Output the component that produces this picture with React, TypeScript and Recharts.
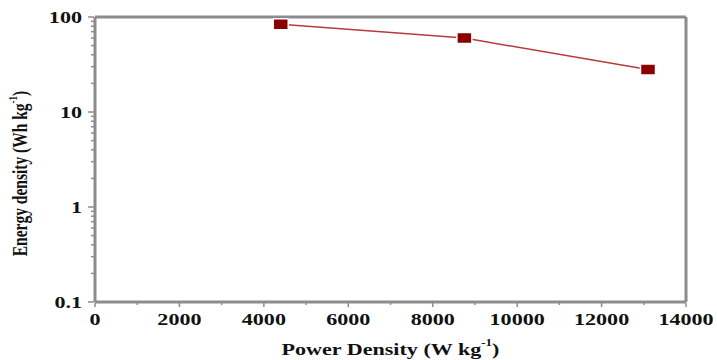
import { LineChart, Line, XAxis, YAxis, ReferenceLine, Label } from 'recharts';

const powerDensity = [4400, 8750, 13100];
const energyDensity = [84, 60, 28];

const xTicks = [0, 1000, 2000, 3000, 4000, 5000, 6000, 7000, 8000, 9000, 10000, 11000, 12000, 13000, 14000];
const xMajor = [0, 2000, 4000, 6000, 8000, 10000, 12000, 14000];
const yTicks = [
  0.1, 0.2, 0.3, 0.4, 0.5, 0.6, 0.7, 0.8, 0.9,
  1, 2, 3, 4, 5, 6, 7, 8, 9,
  10, 20, 30, 40, 50, 60, 70, 80, 90, 100,
];
const yMajor = [0.1, 1, 10, 100];

const data = powerDensity.map((p, i) => ({ power: p, energy: energyDensity[i] }));

const AXIS = '#8c8c8c';
const FONT = 'Liberation Serif, Times New Roman, serif';
const TICK_SIZE = 7;
const TICK_MARGIN = 4;

function YTick(props: any) {
  const { x, y, payload } = props;
  const v = payload.value;
  const major = yMajor.includes(v);
  const axisX = x + TICK_MARGIN + TICK_SIZE;
  return (
    <g>
      <line x1={axisX - (major ? 7 : 4)} x2={axisX - 1} y1={y} y2={y} stroke={AXIS} strokeWidth={1.5} />
      {major && (
        <text
          transform={`translate(${x - 2},${y}) scale(1.3,1)`}
          textAnchor="end"
          dominantBaseline="central"
          fontFamily={FONT}
          fontWeight="bold"
          fontSize={17}
          fill="#111"
        >
          {String(v)}
        </text>
      )}
    </g>
  );
}

function XTick(props: any) {
  const { x, y, payload } = props;
  const v = payload.value;
  const major = xMajor.includes(v);
  const axisY = y - TICK_MARGIN - TICK_SIZE;
  return (
    <g>
      <line x1={x} x2={x} y1={axisY + 1} y2={axisY + (major ? 5 : 3)} stroke={AXIS} strokeWidth={1.5} />
      {major && (
        <text
          transform={`translate(${x},${y + 6}) scale(1.3,1)`}
          textAnchor="middle"
          dominantBaseline="central"
          fontFamily={FONT}
          fontWeight="bold"
          fontSize={17}
          fill="#111"
        >
          {String(v)}
        </text>
      )}
    </g>
  );
}

function YTitle(props: any) {
  const { viewBox } = props;
  const cx = viewBox.x + 20;
  const cy = viewBox.y + viewBox.height / 2 + 14;
  return (
    <text
      transform={`translate(${cx},${cy}) rotate(-90) scale(1,1.3)`}
      textAnchor="middle"
      dominantBaseline="central"
      fontFamily={FONT}
      fontWeight="bold"
      fontSize={15.5}
      fill="#111"
    >
      Energy density (Wh kg<tspan dy={-6} fontSize={9}>-1</tspan>
      <tspan dy={6}>)</tspan>
    </text>
  );
}

function XTitle(props: any) {
  const { viewBox } = props;
  const cx = viewBox.x + viewBox.width / 2;
  const cy = 349;
  return (
    <text
      transform={`translate(${cx},${cy}) scale(1.3,1)`}
      textAnchor="middle"
      dominantBaseline="central"
      fontFamily={FONT}
      fontWeight="bold"
      fontSize={17}
      fill="#111"
    >
      Power Density (W kg<tspan dy={-6} fontSize={10}>-1</tspan>
      <tspan dy={6}>)</tspan>
    </text>
  );
}

function SquareDot(props: any) {
  const { cx, cy, index } = props;
  return (
    <rect
      key={`dot-${index}`}
      x={cx - 7.5}
      y={cy - 5.5}
      width={15}
      height={11}
      rx={1}
      fill="#8b0000"
      stroke="#fff"
      strokeWidth={1.5}
    />
  );
}

export default function App() {
  return (
    <div style={{ position: 'absolute', left: 0, top: 0, background: '#fff' }}>
      <LineChart width={717} height={360} data={data} margin={{ top: 17, right: 31, bottom: 0, left: 0 }}>
        <XAxis
          dataKey="power"
          type="number"
          domain={[0, 14000]}
          ticks={xTicks}
          interval={0}
          height={58}
          tickSize={TICK_SIZE}
          tickMargin={TICK_MARGIN}
          tickLine={false}
          tick={<XTick />}
          axisLine={{ stroke: AXIS, strokeWidth: 3 }}
        >
          <Label content={<XTitle />} />
        </XAxis>
        <YAxis
          dataKey="energy"
          scale="log"
          domain={[0.1, 100]}
          allowDataOverflow
          ticks={yTicks}
          interval={0}
          width={95}
          tickSize={TICK_SIZE}
          tickMargin={TICK_MARGIN}
          tickLine={false}
          tick={<YTick />}
          axisLine={{ stroke: AXIS, strokeWidth: 3 }}
        >
          <Label content={<YTitle />} />
        </YAxis>
        <ReferenceLine y={100} stroke={AXIS} strokeWidth={3} />
        <ReferenceLine x={14000} stroke={AXIS} strokeWidth={3} />
        <Line
          type="linear"
          dataKey="energy"
          stroke="#b83a3a"
          strokeWidth={1.5}
          dot={<SquareDot />}
          activeDot={false}
          isAnimationActive={false}
        />
      </LineChart>
    </div>
  );
}
